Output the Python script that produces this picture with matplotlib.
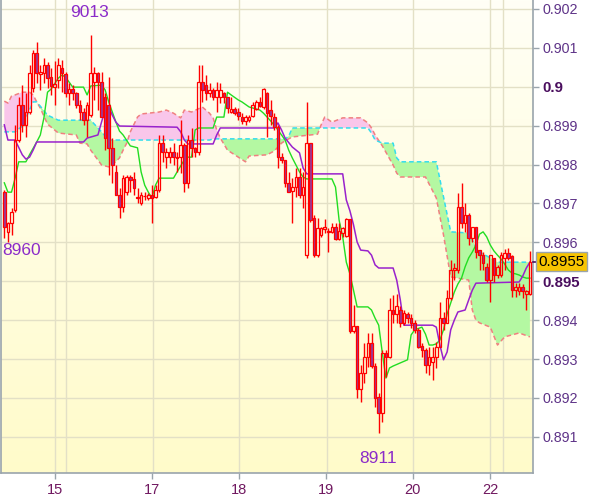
"""
plot.py

功能：
- 绘制小时 K 线（蜡烛图），叠加一目均衡表：转换线、基准线、先行带 A/B 云带。
- 输出 out.png（约 600x497）。
"""

import numpy as np
import matplotlib
# 使用无 GUI backend
matplotlib.use('Agg')
import matplotlib.pyplot as plt
from matplotlib import transforms
from matplotlib.colors import LinearSegmentedColormap

plt.rcParams['font.family'] = ['Liberation Sans', 'DejaVu Sans']

# ========== 数据（价格单位：1e-5，即 89729 -> 0.89729） ==========
PT = 1e-5

open_pts = [89729, 89627, 89650, 89683, 89863, 89953, 89902, 89935, 89997, 90087,
            90033, 90035, 90056, 90025, 89999, 90017, 90048, 90033, 89984, 89994,
            89984, 89953, 89935, 89914, 89927, 90012, 90035, 90012, 89974, 89953,
            89843, 89781, 89722, 89691, 89729, 89768, 89763, 89717, 89701, 89720,
            89714, 89722, 89717, 89735, 89855, 89819, 89819, 89832, 89819, 89819,
            89850, 89753, 89863, 89843, 89832, 90012, 90004, 89984, 89992, 89974,
            89974, 89984, 89974, 89935, 89943, 89935, 89922, 89912, 89914, 89925,
            89943, 89961, 89948, 89984, 89940, 89922, 89896, 89819, 89812, 89753,
            89732, 89742, 89768, 89722, 89567, 89855, 89663, 89567, 89619, 89634,
            89628, 89627, 89639, 89609, 89624, 89616, 89660, 89372, 89385, 89223,
            89264, 89305, 89341, 89282, 89202, 89161, 89315, 89305, 89426, 89416,
            89426, 89393, 89416, 89405, 89393, 89375, 89333, 89323, 89285, 89292,
            89305, 89331, 89405, 89393, 89457, 89529, 89529, 89691, 89650, 89670,
            89611, 89639, 89580, 89567, 89537, 89503, 89560, 89516, 89516, 89560,
            89573, 89565, 89477, 89475, 89485, 89467, 89467]

close_pts = [89639, 89650, 89678, 89863, 89953, 89902, 89935, 90035, 90087, 90035,
             90038, 90056, 90022, 90002, 90007, 90056, 90035, 89984, 89994, 89984,
             89953, 89935, 89914, 89953, 90035, 90035, 90012, 89922, 89868, 89843,
             89799, 89722, 89691, 89765, 89768, 89760, 89740, 89714, 89722, 89718,
             89722, 89714, 89735, 89855, 89832, 89832, 89832, 89819, 89817, 89850,
             89753, 89863, 89843, 89832, 90012, 89992, 89984, 89992, 89974, 89992,
             89992, 89974, 89945, 89943, 89932, 89925, 89912, 89922, 89922, 89953,
             89961, 89950, 89994, 89932, 89925, 89896, 89819, 89812, 89753, 89729,
             89742, 89768, 89722, 89742, 89855, 89657, 89567, 89637, 89637, 89639,
             89626, 89639, 89609, 89629, 89637, 89660, 89372, 89385, 89223, 89264,
             89305, 89341, 89282, 89200, 89161, 89315, 89305, 89426, 89416, 89436,
             89393, 89418, 89405, 89393, 89375, 89331, 89323, 89285, 89305, 89305,
             89331, 89405, 89393, 89457, 89529, 89534, 89691, 89650, 89670, 89611,
             89639, 89575, 89567, 89547, 89503, 89567, 89516, 89537, 89567, 89573,
             89560, 89477, 89485, 89485, 89475, 89475, 89550]

high_pts = [89735, 89652, 89688, 89902, 89974, 90004, 89984, 90056, 90094, 90115,
            90056, 90074, 90064, 90048, 90066, 90074, 90069, 90038, 90010, 90004,
            89986, 89966, 89945, 89961, 90134, 90051, 90038, 90038, 89984, 90025,
            89868, 89799, 89740, 89773, 89773, 89773, 89781, 89740, 89729, 89729,
            89727, 89747, 89747, 89876, 89876, 89843, 89845, 89855, 89832, 89914,
            89855, 89876, 89894, 89845, 90056, 90056, 90030, 90010, 89997, 90012,
            90010, 89986, 89974, 89974, 89948, 89945, 89932, 89927, 89927, 89961,
            89966, 89974, 89997, 89986, 89966, 89932, 89902, 89830, 89812, 89781,
            89765, 89791, 89791, 89781, 89961, 89855, 89670, 89663, 89639, 89660,
            89637, 89650, 89650, 89650, 89639, 89663, 89660, 89439, 89385, 89285,
            89341, 89367, 89367, 89290, 89213, 89323, 89323, 89457, 89465, 89467,
            89436, 89426, 89421, 89416, 89400, 89380, 89341, 89328, 89331, 89331,
            89344, 89447, 89421, 89477, 89555, 89547, 89727, 89753, 89701, 89675,
            89639, 89639, 89580, 89575, 89547, 89567, 89560, 89542, 89575, 89583,
            89585, 89567, 89495, 89495, 89493, 89477, 89578]

low_pts = [89611, 89601, 89619, 89678, 89858, 89884, 89871, 89930, 89986, 90010,
           89992, 90010, 89997, 89979, 89953, 89997, 89986, 89974, 89953, 89966,
           89945, 89914, 89902, 89871, 89922, 89966, 89940, 89922, 89837, 89773,
           89753, 89722, 89663, 89678, 89722, 89729, 89722, 89701, 89696, 89709,
           89709, 89650, 89714, 89729, 89807, 89791, 89804, 89799, 89781, 89778,
           89729, 89740, 89819, 89819, 89825, 89961, 89966, 89974, 89966, 89935,
           89958, 89958, 89932, 89932, 89927, 89914, 89904, 89902, 89909, 89922,
           89940, 89948, 89943, 89871, 89902, 89889, 89791, 89804, 89742, 89729,
           89650, 89717, 89714, 89688, 89560, 89652, 89562, 89562, 89614, 89624,
           89575, 89624, 89606, 89606, 89614, 89614, 89367, 89367, 89200, 89190,
           89238, 89279, 89277, 89177, 89110, 89138, 89254, 89303, 89393, 89393,
           89382, 89387, 89393, 89380, 89367, 89328, 89305, 89264, 89259, 89246,
           89277, 89331, 89375, 89393, 89452, 89503, 89521, 89637, 89627, 89593,
           89601, 89560, 89529, 89529, 89498, 89447, 89498, 89508, 89511, 89529,
           89555, 89459, 89459, 89465, 89457, 89426, 89465]

# 转换线（Tenkan）：K 线序号 + 价格点
tenkan_idx = [0, 1, 2, 3, 4, 6, 7, 9, 10, 11, 12, 13, 15, 16, 17, 19, 22, 23, 24, 27,
              28, 29, 30, 31, 32, 33, 35, 37, 38, 39, 40, 41, 42, 43, 47, 48, 50, 51, 52, 53,
              54, 58, 59, 61, 62, 63, 65, 66, 68, 71, 72, 74, 76, 78, 79, 80, 82, 83, 84, 91,
              92, 93, 94, 95, 96, 97, 98, 101, 102, 103, 104, 105, 106, 107, 108, 112, 113, 114, 116, 117,
              118, 119, 120, 121, 122, 123, 124, 125, 126, 127, 128, 129, 130, 131, 132, 133, 134, 135, 136, 137,
              138, 139, 140, 141, 142, 143, 144, 145, 146]
tenkan_pts = [89753, 89729, 89729, 89765, 89807, 89807, 89825, 89858, 89876, 89920,
              89986, 89994, 90022, 90030, 90025, 89999, 89999, 89979, 90002, 90004,
              89992, 89961, 89935, 89909, 89886, 89876, 89848, 89843, 89781, 89747,
              89729, 89714, 89747, 89765, 89765, 89781, 89812, 89819, 89819, 89889,
              89894, 89894, 89922, 89922, 89986, 89979, 89966, 89961, 89948, 89940,
              89932, 89912, 89889, 89863, 89837, 89817, 89781, 89768, 89763, 89763,
              89742, 89657, 89614, 89549, 89519, 89477, 89434, 89434, 89426, 89405,
              89387, 89316, 89251, 89277, 89282, 89298, 89362, 89375, 89382, 89364,
              89336, 89336, 89339, 89349, 89375, 89416, 89444, 89472, 89493, 89508,
              89537, 89560, 89575, 89593, 89621, 89627, 89614, 89593, 89578, 89567,
              89557, 89544, 89529, 89521, 89519, 89516, 89511, 89508, 89508]

# 基准线（Kijun）
kijun_idx = [0, 1, 3, 5, 6, 7, 8, 9, 22, 23, 26, 27, 28, 29, 30, 31, 32, 48, 49, 50,
             51, 58, 59, 60, 75, 76, 77, 78, 80, 82, 83, 84, 94, 95, 96, 97, 98, 99, 101, 102,
             103, 104, 108, 109, 110, 111, 119, 120, 121, 122, 123, 124, 125, 126, 128, 129, 130, 131, 143, 144,
             145, 146]
kijun_pts = [89902, 89863, 89863, 89825, 89814, 89819, 89837, 89858, 89858, 89868,
             89876, 89909, 89940, 89948, 89927, 89909, 89899, 89896, 89884, 89863,
             89853, 89853, 89876, 89894, 89894, 89907, 89889, 89868, 89845, 89830,
             89791, 89776, 89776, 89709, 89681, 89645, 89601, 89580, 89578, 89567,
             89542, 89534, 89534, 89503, 89452, 89387, 89387, 89382, 89336, 89298,
             89318, 89375, 89400, 89421, 89426, 89452, 89477, 89495, 89498, 89513,
             89534, 89549]

# 先行带 A / B（云带上下沿）
span_idx = [0, 1, 2, 3, 5, 7, 8, 9, 10, 12, 15, 20, 21, 23, 24, 27, 29, 30, 32, 33,
            34, 35, 37, 38, 43, 45, 47, 49, 50, 52, 55, 57, 58, 59, 60, 62, 64, 67, 68, 73,
            75, 77, 78, 79, 80, 87, 88, 89, 91, 94, 99, 101, 102, 103, 105, 108, 109, 110, 117, 120,
            122, 124, 129, 130, 131, 132, 135, 137, 139, 143, 146]
span_a_pts = [89884, 89884, 89884, 89884, 89899, 89940, 89961, 89961, 89950, 89927,
              89914, 89914, 89914, 89914, 89914, 89884, 89863, 89863, 89863, 89863,
              89863, 89863, 89863, 89863, 89863, 89863, 89863, 89863, 89863, 89863,
              89863, 89863, 89866, 89866, 89866, 89866, 89866, 89866, 89866, 89866,
              89866, 89866, 89866, 89873, 89894, 89894, 89894, 89894, 89894, 89894,
              89894, 89894, 89881, 89863, 89855, 89855, 89817, 89807, 89807, 89807,
              89717, 89627, 89624, 89606, 89588, 89575, 89560, 89549, 89549, 89549,
              89549]
span_b_pts = [89963, 89958, 89976, 89979, 89986, 89986, 89979, 89961, 89945, 89904,
              89881, 89876, 89855, 89853, 89837, 89799, 89794, 89799, 89817, 89837,
              89855, 89884, 89922, 89930, 89935, 89940, 89932, 89920, 89940, 89935,
              89948, 89932, 89920, 89889, 89868, 89837, 89825, 89807, 89822, 89825,
              89835, 89855, 89861, 89866, 89871, 89878, 89902, 89922, 89909, 89920,
              89920, 89907, 89894, 89876, 89848, 89799, 89778, 89768, 89768, 89714,
              89619, 89511, 89503, 89426, 89400, 89393, 89382, 89336, 89357, 89367,
              89357]

# 横轴日期刻度（K 线序号）与标签
day_tick_bars = [14.1, 41.0, 65.2, 89.4, 113.5, 134.9]
day_tick_labels = ['15', '17', '18', '19', '20', '22']
vgrid_bars = [14.0, 17.0, 41.2, 65.3, 89.5, 113.6, 134.8, 138.5]

# 价格刻度
price_ticks = [0.891, 0.892, 0.893, 0.894, 0.895, 0.896, 0.897, 0.898, 0.899, 0.900, 0.901, 0.902]
bold_ticks = [0.895, 0.900]
last_price = 0.8955

# 极值标注（文字, K 线序号, 价格）
extreme_labels = [('9013', 23.8, 0.90192), ('8960', -0.7, 0.89578), ('8911', 103.8, 0.89045)]

# ========== 颜色 ==========
RED = '#ff0000'
BEAR_FACE = '#9a3a9a'
TENKAN_C = '#22dd22'
KIJUN_C = '#9922cc'
SPAN_A_C = '#33ddee'
SPAN_B_C = '#f08080'
CLOUD_UP = '#b4f8a2'
CLOUD_DN = '#f9c6ea'
GRID_C = '#e3e0c6'
FRAME_C = '#9aa4ac'
LABEL_C = '#5e3388'
BOLD_C = '#4a0e5e'
XLABEL_C = '#701860'
NOTE_C = '#8b2bc9'


def to_price(pts) -> np.ndarray:
    return np.asarray(pts, dtype=float) * PT


# ========== 绘图函数 ==========
def draw_background(ax):
    cmap = LinearSegmentedColormap.from_list('bg', ['#fffbca', '#fffff6'])
    grad = np.linspace(0, 1, 256).reshape(-1, 1)
    ax.imshow(grad, extent=[0, 1, 0, 1], transform=ax.transAxes, origin='lower',
              aspect='auto', cmap=cmap, zorder=0)


def draw_grid(ax, xlim):
    ax.hlines(price_ticks, xlim[0], xlim[1], color=GRID_C, lw=1.0, zorder=1)
    ax.vlines(vgrid_bars, 0.88, 0.91, color=GRID_C, lw=1.0, zorder=1)


def draw_cloud(ax):
    x = np.asarray(span_idx, dtype=float)
    a = to_price(span_a_pts)
    b = to_price(span_b_pts)
    ax.fill_between(x, a, b, where=a >= b, interpolate=True, color=CLOUD_UP, lw=0, zorder=2)
    ax.fill_between(x, a, b, where=a < b, interpolate=True, color=CLOUD_DN, lw=0, zorder=2)
    ax.plot(x, b, color=SPAN_B_C, lw=1.1, ls=(0, (3, 2)), zorder=3)
    ax.plot(x, a, color=SPAN_A_C, lw=1.1, ls=(0, (3, 2)), zorder=3)


def draw_lines(ax):
    ax.plot(tenkan_idx, to_price(tenkan_pts), color=TENKAN_C, lw=1.0, zorder=4)
    ax.plot(kijun_idx, to_price(kijun_pts), color=KIJUN_C, lw=1.1, zorder=4)


def draw_candles(ax):
    o = to_price(open_pts)
    c = to_price(close_pts)
    h = to_price(high_pts)
    l = to_price(low_pts)
    assert len(o) == len(c) == len(h) == len(l)
    x = np.arange(len(o))
    top = np.maximum(o, c)
    bot = np.minimum(o, c)
    up = c >= o
    # 影线（上下分开画，空心实体内部不穿线）
    ax.vlines(x, top, h, color=RED, lw=1.0, zorder=5)
    ax.vlines(x, l, bot, color=RED, lw=1.0, zorder=5)
    ax.bar(x[up], (top - bot)[up], bottom=bot[up], width=0.72, facecolor='none',
           edgecolor=RED, linewidth=0.9, zorder=6)
    ax.bar(x[~up], (top - bot)[~up], bottom=bot[~up], width=0.72, facecolor=BEAR_FACE,
           edgecolor=RED, linewidth=0.9, zorder=6)


def style_axes(ax, xlim, ylim):
    ax.set_xlim(*xlim)
    ax.set_ylim(*ylim)
    for side in ('left', 'bottom', 'right'):
        ax.spines[side].set_color(FRAME_C)
        ax.spines[side].set_linewidth(1.2)
    ax.spines['top'].set_visible(False)

    ax.yaxis.tick_right()
    ax.set_yticks(price_ticks)
    ax.set_yticklabels([f'{v:g}' for v in price_ticks])
    ax.tick_params(axis='y', direction='out', length=4, width=1, color=FRAME_C,
                   pad=3, labelsize=10.3, labelcolor=LABEL_C)
    for v, lab in zip(price_ticks, ax.get_yticklabels()):
        if any(abs(v - b) < 1e-9 for b in bold_ticks):
            lab.set_fontweight('bold')
            lab.set_color(BOLD_C)
            lab.set_fontsize(10.8)

    ax.set_xticks(day_tick_bars)
    ax.set_xticklabels(day_tick_labels)
    ax.tick_params(axis='x', direction='out', length=4, width=1, color=FRAME_C,
                   pad=3, labelsize=10.5, labelcolor=XLABEL_C)


def draw_annotations(ax):
    for txt, xb, yp in extreme_labels:
        ha = 'left' if xb < 0 else 'center'
        ax.text(xb, yp, txt, color=NOTE_C, fontsize=12.5, ha=ha, va='center', zorder=8)

    # 右侧最新价格框
    trans = transforms.blended_transform_factory(ax.transAxes, ax.transData)
    ax.plot([1.0, 1.008], [last_price, last_price], color=BOLD_C, lw=1.2,
            transform=trans, clip_on=False, zorder=8)
    ax.text(1.0105, last_price, f'{last_price:.4f}', transform=trans, fontsize=10.8,
            color='black', ha='left', va='center', zorder=9,
            bbox=dict(boxstyle='square,pad=0.18', fc='#f7c400', ec=FRAME_C, lw=1))


if __name__ == "__main__":
    fig = plt.figure(figsize=(6.0, 4.97), dpi=100)
    fig.patch.set_facecolor('white')
    ax = fig.add_axes([1 / 600, 24 / 497, 532 / 600, 473 / 497])

    xlim = (-0.92, 146.86)
    ylim = (0.89007, 0.90223)

    draw_background(ax)
    draw_grid(ax, xlim)
    draw_cloud(ax)
    draw_lines(ax)
    draw_candles(ax)
    style_axes(ax, xlim, ylim)
    draw_annotations(ax)

    fig.savefig('out.png', dpi=100)
